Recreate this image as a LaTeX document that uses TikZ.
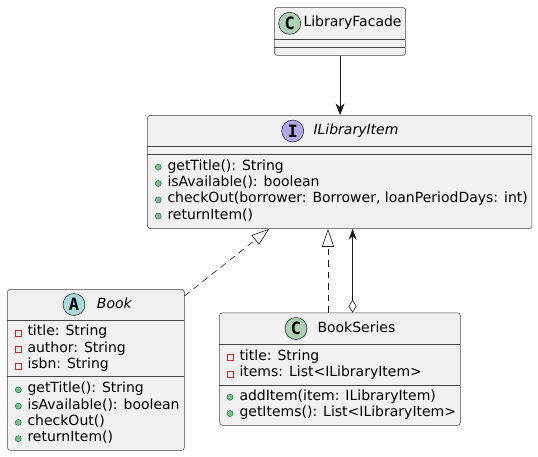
\documentclass[tikz,border=0pt]{standalone}
\usepackage{fontspec}
\setmainfont{DejaVu Sans}
\newfontfamily\circfont{DejaVu Sans Mono}
\usetikzlibrary{arrows.meta,calc}
\definecolor{boxfill}{HTML}{F1F1F1}
\definecolor{boxline}{HTML}{181818}
\definecolor{cgreen}{HTML}{ADD1B2}
\definecolor{acyan}{HTML}{A9DCDF}
\definecolor{ipurple}{HTML}{B4A7E5}
\definecolor{privred}{HTML}{C82930}
\definecolor{pubfill}{HTML}{84BE84}
\definecolor{publine}{HTML}{038048}
\tikzset{
  umlbox/.style={draw=boxline!80, fill=boxfill, line width=0.5pt, rounded corners=2.5pt, inner sep=0pt, anchor=north west},
  sepline/.style={draw=boxline!80, line width=0.5pt},
  member/.style={anchor=west, inner sep=0pt, text height=10.6pt, text depth=3.4pt, font=\fontsize{14}{16}\selectfont},
  circ/.style={circle, draw=boxline, line width=0.5pt, minimum size=22pt, inner sep=0pt, font=\circfont\bfseries\fontsize{17}{17}\selectfont},
  priv/.style={rectangle, draw=privred, line width=0.7pt, minimum size=6pt, inner sep=0pt},
  pub/.style={circle, fill=pubfill, draw=publine, line width=0.5pt, minimum size=6pt, inner sep=0pt},
  conn/.style={draw=boxline, line width=0.6pt},
  dashconn/.style={conn, dash pattern=on 6.5pt off 5pt},
}
\begin{document}
\begin{tikzpicture}[x=1pt,y=-1pt]
\useasboundingbox (0,0) rectangle (538,456);
% ---------- LibraryFacade
\node[umlbox, minimum width=131pt, minimum height=47.7pt] (lf) at (274.3,7.3) {};
\draw[sepline] (274.3,39.3) -- (405.3,39.3);
\draw[sepline] (274.3,47) -- (405.3,47);
\node[circ, fill=cgreen] (lfc) at (289.7,23.3) {C};
\node[member] (lft) at (303.3,23.3) {LibraryFacade};
% ---------- ILibraryItem
\node[umlbox, minimum width=384.4pt, minimum height=113.3pt] (il) at (147.3,115) {};
\draw[sepline] (147.3,146.7) -- (531.7,146.7);
\draw[sepline] (147.3,154.3) -- (531.7,154.3);
\node[circ, fill=ipurple] (ilc) at (292.7,131) {I};
\node[member, font=\fontsize{14}{16}\selectfont\itshape] (ilt) at (313.3,131) {ILibraryItem};
\node[pub] (ilp1) at (158.3,167.2) {};
\node[member] (ilm1) at (167.3,166.7) {getTitle(): String};
\node[pub] (ilp2) at (158.3,183.5) {};
\node[member] (ilm2) at (167.3,183.0) {isAvailable(): boolean};
\node[pub] (ilp3) at (158.3,199.8) {};
\node[member] (ilm3) at (167.3,199.3) {checkOut(borrower: Borrower, loanPeriodDays: int)};
\node[pub] (ilp4) at (158.3,216.1) {};
\node[member] (ilm4) at (167.3,215.6) {returnItem()};
% ---------- Book
\node[umlbox, minimum width=176.7pt, minimum height=161pt] (book) at (7.3,289) {};
\draw[sepline] (7.3,320) -- (184,320);
\draw[sepline] (7.3,376.7) -- (184,376.7);
\node[circ, fill=acyan] (bookc) at (74,304.5) {A};
\node[member, font=\fontsize{14}{16}\selectfont\itshape] (bookt) at (96.7,304.5) {Book};
\node[priv] (bka1) at (18.3,333.3) {};
\node[member] (bkt1) at (27.3,332.3) {title: String};
\node[priv] (bka2) at (18.3,349.6) {};
\node[member] (bkt2) at (27.3,348.6) {author: String};
\node[priv] (bka3) at (18.3,365.9) {};
\node[member] (bkt3) at (27.3,364.9) {isbn: String};
\node[pub] (bkp1) at (18.3,389.8) {};
\node[member] (bkm1) at (27.3,389.3) {getTitle(): String};
\node[pub] (bkp2) at (18.3,406.1) {};
\node[member] (bkm2) at (27.3,405.6) {isAvailable(): boolean};
\node[pub] (bkp3) at (18.3,422.4) {};
\node[member] (bkm3) at (27.3,421.9) {checkOut()};
\node[pub] (bkp4) at (18.3,438.7) {};
\node[member] (bkm4) at (27.3,438.2) {returnItem()};
% ---------- BookSeries
\node[umlbox, minimum width=240.7pt, minimum height=112.3pt] (bs) at (219.3,312.7) {};
\draw[sepline] (219.3,344.3) -- (460,344.3);
\draw[sepline] (219.3,385) -- (460,385);
\node[circ, fill=cgreen] (bsc) at (296,328.5) {C};
\node[member] (bst) at (317.3,328.5) {BookSeries};
\node[priv] (bsa1) at (230,357.7) {};
\node[member] (bsf1) at (239.3,356.7) {title: String};
\node[priv] (bsa2) at (230,374.0) {};
\node[member] (bsf2) at (239.3,373.0) {items: List<ILibraryItem>};
\node[pub] (bsp1) at (230,397.2) {};
\node[member] (bsm1) at (239.3,396.7) {addItem(item: ILibraryItem)};
\node[pub] (bsp2) at (230,413.5) {};
\node[member] (bsm2) at (239.3,413.0) {getItems(): List<ILibraryItem>};
% ---------- connectors
\draw[conn, -{Stealth[length=11.5pt, width=9pt, inset=3.5pt]}] (lf.south) -- (lf.south |- il.north);
\draw[dashconn, -{Triangle[open, length=18pt, width=12pt]}]
  ($(book.north east)+(0,7)$) -- ($(il.south west)+(122,0)$);
\draw[dashconn, -{Triangle[open, length=18pt, width=12pt]}]
  ($(bs.north west)+(108.7,0)$) -- ($(il.south west)+(180.7,0)$);
\draw[conn, {Diamond[length=13pt, width=8pt, fill=white]}-{Stealth[length=11pt, width=8pt, inset=3.5pt]}]
  ($(bs.north west)+(133.3,0)$) -- ($(il.south west)+(205.3,0)$);
\end{tikzpicture}
\end{document}
